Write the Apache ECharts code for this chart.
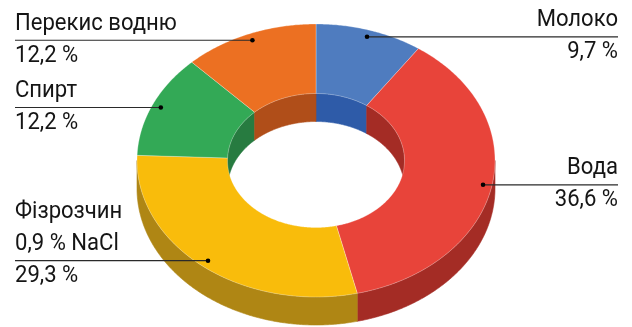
<!DOCTYPE html>
<html>
<head>
<meta charset="utf-8">
<script src="https://cdn.jsdelivr.net/npm/echarts@6/dist/echarts.min.js"></script>
<style>
  html, body { margin: 0; padding: 0; background: #ffffff; }
  #chart { width: 632px; height: 327px; }
</style>
</head>
<body>
<div id="chart"></div>
<script>
// Share of each liquid, percent, clockwise from 12 o'clock
const categories = ['Молоко', 'Вода', 'Фізрозчин\n0,9 % NaCl', 'Спирт', 'Перекис водню'];
const shares = [9.7, 36.6, 29.3, 12.2, 12.2];

// Face colours and the darker shade used for the ring's walls
const topColors = ['#4f7cbf', '#e8443a', '#f9bc0b', '#33a956', '#ec7022'];
const wallColors = ['#2e5ba8', '#a42c25', '#af8614', '#277b40', '#b04e19'];

// Tilted ring geometry (ellipse of the top face, hole, wall depth)
const ring = { cx: 316, cy: 160.5, rx: 179, ry: 136.5, rxIn: 88.5, ryIn: 67, depth: 28 };
const labelFont = '24px Roboto';
const labelSqueeze = 0.92;   // narrow the label glyphs a little
const lineGap = 32.5;        // distance between label text lines

const total = shares.reduce((s, v) => s + v, 0);
let run = 0;
const sectors = shares.map((v, i) => {
  const a = run / total * 360;
  run += v;
  return [a, run / total * 360, i];
});

function pt(rx, ry, deg, dy) {
  const r = deg * Math.PI / 180;
  return [ring.cx + rx * Math.sin(r), ring.cy - ry * Math.cos(r) + (dy || 0)];
}
function arc(rx, ry, a, b, dy) {
  const n = Math.max(2, Math.ceil(Math.abs(b - a) * 2));
  const pts = [];
  for (let k = 0; k <= n; k++) pts.push(pt(rx, ry, a + (b - a) * k / n, dy));
  return pts;
}
function clip(a, b, lo, hi) {
  const s = Math.max(a, lo), e = Math.min(b, hi);
  return s < e ? [s, e] : null;
}
function wall(rx, ry, a, b) {
  return arc(rx, ry, a, b, 0).concat(arc(rx, ry, b, a, ring.depth));
}
function fmt(v) { return v.toFixed(1).replace('.', ',') + ' %'; }
function textLine(str, x, y, align) {
  return {
    type: 'text', x, y, scaleX: labelSqueeze,
    style: { text: str, x: 0, y: 0, align, verticalAlign: 'middle', font: labelFont, fill: '#151515' }
  };
}

const chart = echarts.init(document.getElementById('chart'), null, { renderer: 'canvas' });

chart.setOption({
  backgroundColor: '#ffffff',
  animation: false,
  series: [
    {
      // outer walls on the near half, inner walls on the far half
      type: 'custom',
      coordinateSystem: 'none',
      silent: true,
      z: 1,
      data: sectors,
      renderItem(params, api) {
        const a = api.value(0), b = api.value(1), i = api.value(2);
        const children = [];
        const style = { fill: wallColors[i], stroke: wallColors[i], lineWidth: 0.6 };
        const front = clip(a, b, 90, 270);
        if (front) children.push({ type: 'polygon', shape: { points: wall(ring.rx, ring.ry, front[0], front[1]) }, style });
        [[0, 90], [270, 360]].forEach(([lo, hi]) => {
          const back = clip(a, b, lo, hi);
          if (back) children.push({ type: 'polygon', shape: { points: wall(ring.rxIn, ring.ryIn, back[0], back[1]) }, style });
        });
        return { type: 'group', children };
      }
    },
    {
      // top face of each slice
      type: 'custom',
      coordinateSystem: 'none',
      silent: true,
      z: 2,
      data: sectors,
      renderItem(params, api) {
        const a = api.value(0), b = api.value(1), i = api.value(2);
        const pts = arc(ring.rx, ring.ry, a, b).concat(arc(ring.rxIn, ring.ryIn, b, a));
        return {
          type: 'polygon',
          shape: { points: pts },
          style: { fill: topColors[i], stroke: 'rgba(255,255,255,0.35)', lineWidth: 0.8 }
        };
      }
    },
    {
      // leader lines and labels
      type: 'custom',
      coordinateSystem: 'none',
      silent: true,
      z: 3,
      data: sectors,
      renderItem(params, api) {
        const a = api.value(0), b = api.value(1), i = api.value(2);
        const mid = (a + b) / 2;
        const [x, y] = pt(ring.rx * 0.95, ring.ry * 0.95, mid);
        const left = mid > 180;
        const xEnd = left ? 15 : 618;
        const align = left ? 'left' : 'right';
        const children = [
          { type: 'line', shape: { x1: x, y1: y, x2: xEnd, y2: y }, style: { stroke: '#2a2a2a', lineWidth: 1.2 } },
          { type: 'circle', shape: { cx: x, cy: y, r: 2.3 }, style: { fill: '#000000' } }
        ];
        const lines = categories[i].split('\n');
        lines.forEach((s, k) => {
          children.push(textLine(s, xEnd, y - 16.5 - (lines.length - 1 - k) * lineGap, align));
        });
        children.push(textLine(fmt(shares[i]), xEnd, y + 15.5, align));
        return { type: 'group', children };
      }
    }
  ]
});
</script>
</body>
</html>
